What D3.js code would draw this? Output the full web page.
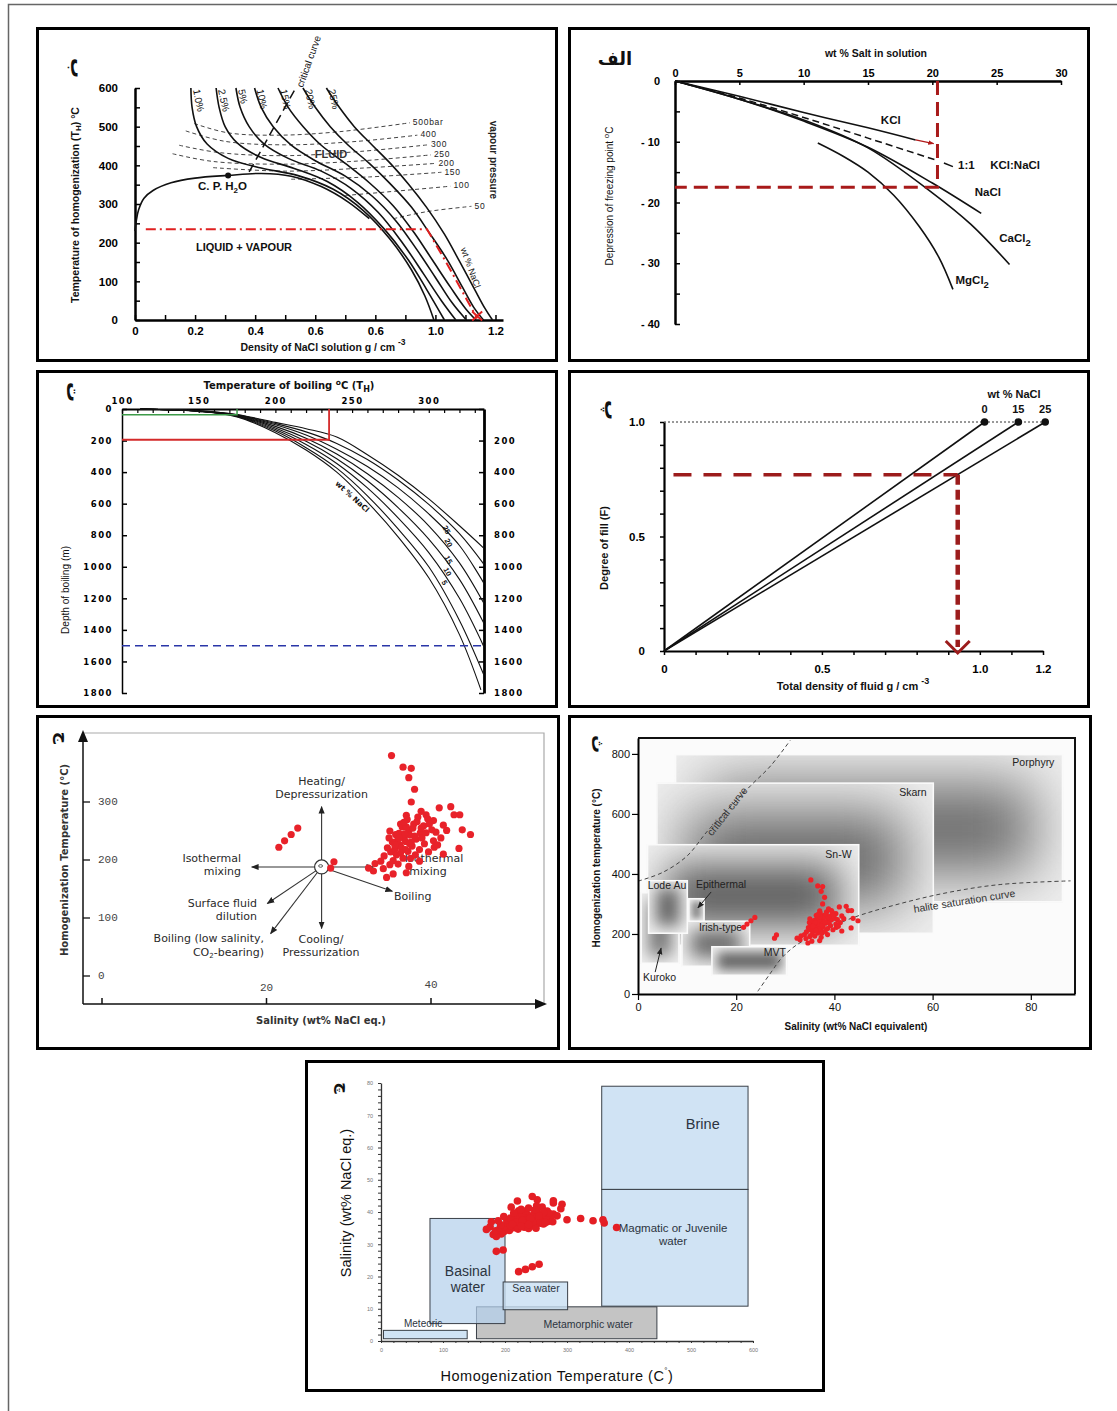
<!DOCTYPE html>
<html>
<head>
<meta charset="utf-8">
<script src="https://cdn.jsdelivr.net/npm/d3@7"></script>
<style>
  body { margin: 0; background: #fff; }
  svg { display: block; font-family: "Liberation Sans", Arial, sans-serif; }
</style>
</head>
<body>
<div id="fig"></div>
<script>
// ---------------- data ----------------

// panel ب : density of NaCl solution vs homogenization temperature
const bDensityTicks = [0, 0.1, 0.2, 0.3, 0.4, 0.5, 0.6, 0.7, 0.8, 0.9, 1.0, 1.1, 1.2];
const bDensityLabels = ['0', '0.2', '0.4', '0.6', '0.6', '1.0', '1.2'];
const bTempTicks = [0, 50, 100, 150, 200, 250, 300, 350, 400, 450, 500, 550, 600];
const bSalinity = ['1.0%', '2.5%', '5%', '10%', '15%', '20%', '25%'];
const bCurves = [
  [[0.186,600],[0.19,550],[0.205,500],[0.24,455],[0.31,418],[0.42,393],[0.54,374],[0.66,338],[0.76,283],[0.85,208],[0.92,130],[0.965,62],[0.995,0]],
  [[0.27,600],[0.28,550],[0.30,500],[0.34,458],[0.42,420],[0.53,392],[0.64,358],[0.74,305],[0.83,235],[0.91,155],[0.97,80],[1.03,0]],
  [[0.336,600],[0.35,550],[0.38,500],[0.43,455],[0.51,418],[0.62,385],[0.72,340],[0.81,278],[0.89,200],[0.96,120],[1.02,50],[1.068,0]],
  [[0.398,600],[0.42,550],[0.46,500],[0.52,452],[0.60,412],[0.70,372],[0.79,320],[0.87,255],[0.94,180],[1.00,110],[1.055,45],[1.103,0]],
  [[0.476,600],[0.51,550],[0.56,500],[0.62,452],[0.70,405],[0.78,355],[0.86,295],[0.93,225],[0.99,155],[1.05,85],[1.10,30],[1.135,0]],
  [[0.559,600],[0.60,550],[0.65,500],[0.71,452],[0.78,405],[0.85,352],[0.92,292],[0.98,225],[1.04,155],[1.09,85],[1.13,30],[1.16,0]],
  [[0.637,600],[0.68,550],[0.73,500],[0.79,452],[0.85,405],[0.91,352],[0.97,292],[1.03,222],[1.08,152],[1.13,80],[1.165,30],[1.19,0]]
];
const bDome = [[0,230],[0.004,255],[0.012,285],[0.03,315],[0.06,335],[0.12,355],[0.2,367],[0.31,374],[0.42,379],[0.52,372],[0.62,345],[0.71,305],[0.78,262]];
const bCriticalPoint = [0.31, 374];
const bCritical = [[0.38,383],[0.535,600]];
const bIsobarLabels = ['500bar', '400', '300', '250', '200', '150', '100', '50'];
const bIsobars = [
  [[0.197,508],[0.31,484],[0.48,478],[0.68,487],[0.915,510]],
  [[0.169,489],[0.30,462],[0.50,453],[0.74,462],[0.94,478]],
  [[0.147,452],[0.28,433],[0.50,425],[0.75,436],[0.975,453]],
  [[0.125,430],[0.26,410],[0.50,403],[0.76,412],[0.985,427]],
  [[0.26,394],[0.50,385],[0.76,393],[1.0,405]],
  [[0.52,364],[0.78,370],[1.02,382]],
  [[0.70,322],[0.88,334],[1.05,346]],
  [[0.86,262],[0.97,280],[1.12,294]]
];
const bRedGuide = [[0.036,235],[0.972,235],[1.044,138],[1.105,52],[1.139,4]];

// panel الف : freezing point depression
const aSaltTicks = [0, 5, 10, 15, 20, 25, 30];
const aTempTicks = [0, -5, -10, -15, -20, -25, -30, -35, -40];
const aSalts = ['KCl', 'NaCl', 'CaCl2', 'MgCl2'];
const aCurves = [
  [[0,0],[5,-2.5],[10,-5.2],[15,-7.7],[18.7,-9.7]],
  [[0,0],[5,-3.0],[10,-6.6],[15,-10.9],[20,-16.8],[23.8,-21.8]],
  [[0,0],[5,-3.0],[10,-6.4],[15,-11.0],[20,-18.4],[23,-23.6],[26,-30.2]],
  [[11.1,-10.2],[13,-12.3],[15,-15],[17,-18.8],[19,-24],[20.5,-29],[21.6,-34.3]]
];
const aMixed = [[0,0],[5,-2.8],[10,-6.0],[15,-9.4],[20.4,-13.1]];
const aGuide = { salt: 20.4, temp: -17.5 };

// panel ت : boiling point with depth
const tTempTicks = [100, 150, 200, 250, 300];
const tDepthTicks = [0, 200, 400, 600, 800, 1000, 1200, 1400, 1600, 1800];
const tCurves = [
  [[112,0],[150,12],[175,35],[200,85],[220,125],[240,178],[260,290],[280,420],[300,570],[320,740],[336,883]],
  [[112,0],[150,12],[175,37],[200,92],[220,145],[240,218],[260,320],[280,450],[300,605],[320,790],[336,985]],
  [[112,0],[150,13],[175,39],[200,100],[220,165],[240,255],[260,365],[280,500],[300,665],[320,865],[336,1106]],
  [[112,0],[150,13],[175,41],[200,110],[220,185],[240,285],[260,410],[280,560],[300,740],[320,975],[336,1233]],
  [[112,0],[150,14],[175,43],[200,120],[220,205],[240,315],[260,455],[280,625],[300,825],[320,1080],[336,1360]],
  [[112,0],[150,14],[175,45],[200,130],[220,225],[240,345],[260,500],[280,690],[300,910],[320,1200],[336,1508]],
  [[112,0],[150,15],[175,47],[200,140],[220,245],[240,375],[260,550],[280,760],[300,1000],[320,1340],[336,1688]],
  [[112,0],[150,15],[175,50],[200,150],[220,260],[240,400],[260,590],[280,810],[300,1070],[320,1430],[334,1780]]
];
const tCurveLabels = ['25', '20', '15', '10', '5'];
const tGreen = { temp: 175, depth: 36 };
const tRed = { temp: 235, depth: 195 };
const tBlueDepth = 1500;

// panel پ : degree of fill
const pSalinity = ['0', '15', '25'];
const pDensityAtFull = [1.015, 1.122, 1.207];
const pDensityTicks = [0, 0.1, 0.2, 0.3, 0.4, 0.5, 0.6, 0.7, 0.8, 0.9, 1.0, 1.1, 1.2];
const pDensityLabels = { 0: '0', 0.5: '0.5', 1: '1.0', 1.2: '1.2' };
const pFillTicks = [0, 0.1, 0.2, 0.3, 0.4, 0.5, 0.6, 0.7, 0.8, 0.9, 1.0];
const pGuide = { fill: 0.77, density: 0.93 };

// fluid inclusion measurements [salinity wt% NaCl eq., Th °C] (panels ج, ث, چ)
const inclusions = [
  [21.5,222],[22.2,233],[23.0,244],[23.8,255],
  [27.8,186],[28.2,197],
  [35.2,380],[36.6,360],[37.6,358],[37.3,342],[38.0,322],[37.6,300],
  [42.4,292],[42.8,278],[43.5,278],[43.8,252],[44.8,244],[43.4,220],[41.5,260],[41.9,251],
  [39.4,278],[40.3,268],[38.8,284],[41.0,290],
  [33.2,194],[33.0,181],[34.6,170],[35.4,176],[37.0,178],[41.5,210],[40.4,222],
  [32.4,186],[33.9,198],[34.2,185],[35.0,192],
  [34.3,207],[35.1,214],[35.6,219],[36.2,226],[35.9,233],[36.7,238],[36.1,246],[37.3,251],[36.5,257],[37.9,262],
  [37.1,270],[38.4,274],[35.4,199],[36.6,203],[35.8,209],[37.2,215],[36.4,221],[37.7,224],[36.9,232],[38.2,236],
  [37.4,243],[38.7,247],[37.8,255],[39.1,259],[38.3,266],[39.6,271],[34.7,221],[35.3,231],[34.9,238],[35.7,244],
  [36.3,262],[37.0,277],[38.9,238],[39.4,247],[40.1,252],[39.8,262],[40.6,248],[38.6,218],[39.2,228],[40.3,233],
  [37.5,203],[38.1,209],[36.0,193],[37.3,189],[38.6,198],[39.7,214],[40.8,226],[41.2,238],[35.0,250],[36.8,245],
  [36.9,218],[37.6,231],[36.3,212],[38.0,241],[37.0,257],[36.1,238],[38.8,255],[37.4,228],[35.6,226],[36.7,265]
];

// panel ج : process arrows
const jTempTicks = [0, 100, 200, 300];
const jSalTicks = [0, 20, 40];
const jCentre = [26.7, 188];
const jArrowEnds = [[26.7,292],[26.7,82],[18.2,188],[33.0,188],[35.3,146],[20.1,125],[20.5,73]];

// panel ث : deposit types
const sTempTicks = [0, 200, 400, 600, 800];
const sSalTicks = [0, 20, 40, 60, 80];
const deposits = ['Porphyry', 'Skarn', 'Sn-W', 'Kuroko', 'Irish-type', 'Lode Au', 'Epithermal', 'MVT'];
const depositSalinity = [[7.5,86.6],[3.7,60.3],[1.8,45.1],[0.5,8.5],[8.8,22.9],[2.0,10.2],[10.2,13.6],[14.9,30.4]];
const depositTemp = [[305,800],[200,705],[160,500],[100,340],[90,245],[200,380],[240,320],[60,160]];
const depositLabelAt = [[84.8,770,'end'],[58.8,670,'end'],[43.5,463,'end'],[1.0,53,'start'],[12.4,220,'start'],[5.9,360,'middle'],[11.8,363,'start'],[25.6,137,'start']];
const sCritical = [[0,376],[5,405],[10,460],[14,540],[18,610],[23,695],[27,760],[31,845]];
const sHalite = [[24.4,9],[27,70],[29.2,119],[32,160],[35.9,197],[43.4,252],[53.6,302],[63.7,340],[73.9,365],[88.1,377]];

// panel چ : water types
const cTempTicks = [0, 100, 200, 300, 400, 500, 600];
const cSalTicks = [0, 10, 20, 30, 40, 50, 60, 70, 80];
const waters = ['Metamorphic water', 'Meteoric', 'Basinal water', 'Sea water', 'Brine', 'Magmatic or Juvenile water'];
const waterTemp = [[154,445],[4,139],[79,200],[197,301],[356,592],[356,592]];
const waterSalinity = [[0.7,10.6],[0.7,3.3],[5.4,38],[9.7,18.3],[47,79],[10.8,47]];
const waterLabelAt = [[334,5],[68,5.3],[140,21.4],[250,16.1],[519,67],[471,34.7]];

// ---------------- page ----------------
const W = 1117, H = 1411;
const svg = d3.select('#fig').append('svg')
  .attr('width', W).attr('height', H).attr('viewBox', [0, 0, W, H]);
const defs = svg.append('defs');

defs.append('marker').attr('id', 'arrow')
  .attr('viewBox', '0 0 10 10').attr('refX', 9).attr('refY', 5)
  .attr('markerWidth', 7).attr('markerHeight', 7).attr('orient', 'auto')
  .append('path').attr('d', 'M0,1L10,5L0,9z').attr('fill', '#222');
defs.append('marker').attr('id', 'redArrow')
  .attr('viewBox', '0 0 10 10').attr('refX', 9).attr('refY', 5)
  .attr('markerWidth', 5).attr('markerHeight', 5).attr('orient', 'auto')
  .append('path').attr('d', 'M0,1L10,5L0,9z').attr('fill', '#b01818');

function label(g, x, y, text, o = {}) {
  const t = g.append('text').attr('x', x).attr('y', y).text(text)
    .attr('font-size', o.size || 11)
    .attr('font-weight', o.weight || 'normal')
    .attr('text-anchor', o.anchor || 'start')
    .attr('dominant-baseline', o.base || 'middle')
    .attr('fill', o.fill || '#111');
  if (o.family) t.attr('font-family', o.family);
  if (o.rotate !== undefined) t.attr('transform', `rotate(${o.rotate},${x},${y})`);
  if (o.ls) t.attr('letter-spacing', o.ls);
  if (o.len) t.attr('textLength', o.len).attr('lengthAdjust', 'spacingAndGlyphs');
  if (o.style) t.attr('font-style', o.style);
  return t;
}
function styleAxis(sel, o = {}) {
  sel.attr('font-family', null).attr('font-size', null);
  sel.select('.domain').attr('stroke', o.color || '#000').attr('stroke-width', o.domain || 2);
  sel.selectAll('.tick line').attr('stroke', o.color || '#000').attr('stroke-width', o.tick || 1.5);
  sel.selectAll('.tick text').attr('font-size', o.size || 11).attr('font-weight', o.weight || 'bold')
    .attr('fill', o.fill || '#000');
  if (o.family) sel.selectAll('.tick text').attr('font-family', o.family);
  if (o.ls) sel.selectAll('.tick text').attr('letter-spacing', o.ls);
}

// outer figure border
svg.append('path').attr('d', `M8.5,${H}V4.5H${W}`).attr('fill', 'none').attr('stroke', '#666').attr('stroke-width', 1.5);

// panel frames
const frames = [[36,27,522,335],[568,27,522,335],[36,370,522,338],[568,370,522,338],[36,715,524,335],[568,715,524,335],[305,1060,520,332]];
svg.selectAll('rect.frame').data(frames).join('rect').attr('class', 'frame')
  .attr('x', d => d[0] + 1.5).attr('y', d => d[1] + 1.5)
  .attr('width', d => d[2] - 3).attr('height', d => d[3] - 3)
  .attr('fill', 'none').attr('stroke', '#000').attr('stroke-width', 3);

// panel letters
const letterFont = '"DejaVu Sans", sans-serif';
label(svg, 76, 68, 'ب', { size: 20, weight: 'bold', anchor: 'middle', rotate: 90, family: letterFont });
label(svg, 615, 60, 'الف', { size: 18, weight: 'bold', anchor: 'middle', family: letterFont });
label(svg, 72, 392, 'ت', { size: 20, weight: 'bold', anchor: 'middle', rotate: 90, family: letterFont });
label(svg, 610, 410, 'پ', { size: 20, weight: 'bold', anchor: 'middle', rotate: 90, family: letterFont });
label(svg, 62, 738, 'ج', { size: 17, weight: 'bold', anchor: 'middle', rotate: 90, family: letterFont });
label(svg, 597, 744, 'ث', { size: 18, weight: 'bold', anchor: 'middle', rotate: 90, family: letterFont });
label(svg, 342, 1088, 'چ', { size: 16, weight: 'bold', anchor: 'middle', rotate: 90, family: letterFont });

// ================= panel ب =================
{
  const g = svg.append('g');
  const x = d3.scaleLinear().domain([0, 1.225]).range([135, 503]);
  const y = d3.scaleLinear().domain([0, 600]).range([320, 88]);
  const line = d3.line().x(d => x(d[0])).y(d => y(d[1])).curve(d3.curveCatmullRom.alpha(0.5));

  g.append('g').attr('transform', 'translate(135,0)')
    .call(d3.axisLeft(y).tickValues(bTempTicks).tickSize(-5).tickSizeOuter(0).tickPadding(17)
      .tickFormat(d => d % 100 === 0 ? d : ''))
    .call(styleAxis, { domain: 2.5, size: 11.5 });
  g.append('g').attr('transform', 'translate(0,320)')
    .call(d3.axisBottom(x).tickValues(bDensityTicks).tickSize(-5).tickSizeOuter(0).tickPadding(7)
      .tickFormat((d, i) => i % 2 === 0 ? bDensityLabels[i / 2] : ''))
    .call(styleAxis, { domain: 2.5, size: 11.5 });

  // isobars
  g.selectAll('.isobar').data(bIsobars).join('path').attr('class', 'isobar')
    .attr('d', line).attr('fill', 'none').attr('stroke', '#444').attr('stroke-width', 1)
    .attr('stroke-dasharray', '4,3');
  bIsobars.forEach((pts, i) => {
    const p = pts[pts.length - 1];
    label(g, x(p[0]) + 3, y(p[1]), bIsobarLabels[i], { size: 8.5, fill: '#222', ls: 0.7 });
  });

  // isochores / salinity curves
  g.selectAll('.iso').data(bCurves).join('path').attr('class', 'iso')
    .attr('d', line).attr('fill', 'none').attr('stroke', '#111').attr('stroke-width', 1.6);
  bCurves.forEach((pts, i) => {
    label(g, x(pts[0][0]) + 2, 90, bSalinity[i], { size: 10, rotate: 78, base: 'auto', fill: '#111' });
  });
  g.append('path').attr('d', line(bDome)).attr('fill', 'none').attr('stroke', '#111').attr('stroke-width', 1.6);
  g.append('circle').attr('cx', x(bCriticalPoint[0])).attr('cy', y(bCriticalPoint[1])).attr('r', 3).attr('fill', '#111');
  g.append('path').attr('d', d3.line().x(d => x(d[0])).y(d => y(d[1]))(bCritical))
    .attr('stroke', '#111').attr('stroke-width', 1.5).attr('stroke-dasharray', '9,5');
  label(g, x(bCritical[1][0]) + 7, y(bCritical[1][1]), 'critical curve', { size: 10, rotate: -70, base: 'auto', len: 54 });

  // red guide
  g.append('path').attr('d', d3.line().x(d => x(d[0])).y(d => y(d[1]))(bRedGuide))
    .attr('fill', 'none').attr('stroke', '#e02020').attr('stroke-width', 2).attr('stroke-dasharray', '10,4,2,4');
  const end = bRedGuide[bRedGuide.length - 1];
  g.append('path').attr('d', `M${x(end[0]) - 5},${y(end[1]) - 7}L${x(end[0]) + 5},${y(end[1]) + 2}M${x(end[0]) + 5},${y(end[1]) - 7}L${x(end[0]) - 5},${y(end[1]) + 2}`)
    .attr('stroke', '#e02020').attr('stroke-width', 2);

  label(g, 331, 155, 'FLUID', { size: 11, weight: 'bold', anchor: 'middle', fill: '#333' });
  const cp = label(g, 198, 187, 'C. P.  H', { size: 11.5, weight: 'bold' });
  cp.append('tspan').attr('font-size', 8).attr('dy', 4).text('2');
  cp.append('tspan').attr('dy', -4).text('O');
  label(g, 196, 248, 'LIQUID  +  VAPOUR', { size: 11, weight: 'bold' });
  label(g, 493, 160, 'vapour pressure', { size: 10, weight: 'bold', anchor: 'middle', rotate: 90, fill: '#222' });
  label(g, 470, 268, 'wt % NaCl', { size: 9, anchor: 'middle', rotate: 70, fill: '#222' });

  const yl = label(g, 76, 205, 'Temperature of homogenization (T', { size: 10.5, weight: 'bold', anchor: 'middle', rotate: -90 });
  yl.append('tspan').attr('font-size', 8).attr('dy', 3).text('H');
  yl.append('tspan').attr('dy', -3).text(') °C');
  const xl = label(g, 323, 348, 'Density of NaCl solution  g / cm ', { size: 10.5, weight: 'bold', anchor: 'middle' });
  xl.append('tspan').attr('font-size', 8.5).attr('dy', -5).text('-3');
}

// ================= panel الف =================
{
  const g = svg.append('g');
  const x = d3.scaleLinear().domain([0, 30]).range([675, 1061]);
  const y = d3.scaleLinear().domain([0, -40]).range([81, 324]);
  const line = d3.line().x(d => x(d[0])).y(d => y(d[1])).curve(d3.curveCatmullRom.alpha(0.5));

  g.append('g').attr('transform', 'translate(0,81)')
    .call(d3.axisTop(x).tickValues(aSaltTicks).tickSize(-4).tickSizeOuter(0).tickPadding(4))
    .call(styleAxis, { domain: 2.5, size: 11 });
  g.append('g').attr('transform', 'translate(675,0)')
    .call(d3.axisLeft(y).tickValues(aTempTicks).tickSize(-5).tickSizeOuter(0).tickPadding(15)
      .tickFormat(d => d % 10 !== 0 ? '' : (d === 0 ? '0' : '- ' + (-d))))
    .call(styleAxis, { domain: 2.5, size: 11 });

  g.selectAll('.salt').data(aCurves).join('path').attr('class', 'salt')
    .attr('d', line).attr('fill', 'none').attr('stroke', '#111').attr('stroke-width', 1.6);
  g.append('path').attr('d', line(aMixed)).attr('fill', 'none').attr('stroke', '#111')
    .attr('stroke-width', 1.5).attr('stroke-dasharray', '7,4');
  g.append('path').attr('d', `M${x(20.9)},${y(-13.5)}L${x(21.6)},${y(-14.1)}`).attr('stroke', '#111').attr('stroke-width', 1.5);

  // red guides
  g.append('path').attr('d', `M${x(aGuide.salt)},${y(0)}V${y(aGuide.temp)}H${x(0)}`)
    .attr('fill', 'none').attr('stroke', '#a81a1a').attr('stroke-width', 3).attr('stroke-dasharray', '14,7');
  g.append('path').attr('d', `M${x(18.7)},${y(-9.7)}L${x(20.1)},${y(-10.3)}`)
    .attr('stroke', '#b01818').attr('stroke-width', 1.2).attr('marker-end', 'url(#redArrow)');

  label(g, x(16.0), y(-6.6), 'KCl', { size: 11.5, weight: 'bold' });
  label(g, x(22.0), y(-14.0), '1:1', { size: 11.5, weight: 'bold' });
  label(g, x(24.5), y(-14.0), 'KCl:NaCl', { size: 11.5, weight: 'bold' });
  label(g, x(23.3), y(-18.4), 'NaCl', { size: 11.5, weight: 'bold' });
  const ca = label(g, x(25.2), y(-26.0), 'CaCl', { size: 11.5, weight: 'bold' });
  ca.append('tspan').attr('dy', 4).attr('font-size', 9.5).text('2');
  const mg = label(g, x(21.8), y(-32.9), 'MgCl', { size: 11.5, weight: 'bold' });
  mg.append('tspan').attr('dy', 4).attr('font-size', 9.5).text('2');

  label(g, 876, 54, 'wt  %  Salt in solution', { size: 10.5, weight: 'bold', anchor: 'middle' });
  const yl = label(g, 610, 196, 'Depression of freezing point   ', { size: 10, anchor: 'middle', rotate: -90 });
  yl.append('tspan').attr('dy', -3).attr('font-size', 8).text('o');
  yl.append('tspan').attr('dy', 3).text('C');
}

// ================= panel ت =================
{
  const g = svg.append('g');
  const x = d3.scaleLinear().domain([100, 336]).range([122, 484]);
  const y = d3.scaleLinear().domain([0, 1800]).range([409, 693]);
  const line = d3.line().x(d => x(d[0])).y(d => y(d[1])).curve(d3.curveCatmullRom.alpha(0.5));
  const font = '"DejaVu Sans", sans-serif';

  g.append('g').attr('transform', 'translate(0,409)')
    .call(d3.axisTop(x).tickValues(d3.range(100, 337, 10)).tickSize(-4).tickSizeOuter(0).tickPadding(5)
      .tickFormat(d => tTempTicks.includes(d) ? d : ''))
    .call(styleAxis, { domain: 2, tick: 1.2, size: 8.5, family: font, ls: 1.5 });
  g.append('g').attr('transform', 'translate(122,0)')
    .call(d3.axisLeft(y).tickValues(tDepthTicks).tickSize(-5).tickSizeOuter(0).tickPadding(9)
      .tickFormat(d => String(d)))
    .call(styleAxis, { domain: 1.5, tick: 1.5, size: 8.5, family: font, ls: 1.5 });
  g.append('g').attr('transform', 'translate(484,0)')
    .call(d3.axisRight(y).tickValues(tDepthTicks).tickSize(-5).tickSizeOuter(0).tickPadding(10)
      .tickFormat(d => d === 0 ? '' : String(d)))
    .call(styleAxis, { domain: 2.8, tick: 1.5, size: 8.5, family: font, ls: 1.5 });

  g.selectAll('.boil').data(tCurves).join('path').attr('class', 'boil')
    .attr('d', line).attr('fill', 'none').attr('stroke', '#111').attr('stroke-width', 1.1);

  g.append('path').attr('d', `M${x(100)},${y(tGreen.depth)}H${x(tGreen.temp)}V${y(0)}`)
    .attr('fill', 'none').attr('stroke', '#3c9a48').attr('stroke-width', 1.5);
  g.append('path').attr('d', `M${x(100)},${y(tRed.depth)}H${x(tRed.temp)}V${y(0)}`)
    .attr('fill', 'none').attr('stroke', '#d42a2a').attr('stroke-width', 1.8);
  g.append('line').attr('x1', x(100)).attr('x2', x(336)).attr('y1', y(tBlueDepth)).attr('y2', y(tBlueDepth))
    .attr('stroke', '#2a36a8').attr('stroke-width', 1.5).attr('stroke-dasharray', '8,5');

  const labelPos = [[446,530],[448,543],[448,560],[447,572],[444,583]];
  tCurveLabels.forEach((t, i) => label(g, labelPos[i][0], labelPos[i][1], t, { size: 7.5, weight: 'bold', rotate: 62, anchor: 'middle' }));
  label(g, 352, 497, 'wt % NaCl', { size: 7.5, weight: 'bold', rotate: 42, anchor: 'middle', family: font });

  const tl = label(g, 289, 386, 'Temperature of boiling  ', { size: 10, weight: 'bold', anchor: 'middle', family: font });
  tl.append('tspan').attr('dy', -3).attr('font-size', 7.5).text('o');
  tl.append('tspan').attr('dy', 3).text('C (T');
  tl.append('tspan').attr('dy', 3).attr('font-size', 8).text('H');
  tl.append('tspan').attr('dy', -3).text(')');
  label(g, 66, 590, 'Depth of boiling (m)', { size: 10.5, anchor: 'middle', rotate: -90, len: 88 });
}

// ================= panel پ =================
{
  const g = svg.append('g');
  const x = d3.scaleLinear().domain([0, 1.2]).range([664, 1043]);
  const y = d3.scaleLinear().domain([0, 1]).range([651, 422]);

  g.append('g').attr('transform', 'translate(0,651)')
    .call(d3.axisBottom(x).tickValues(pDensityTicks).tickSize(4).tickSizeOuter(0).tickPadding(10)
      .tickFormat(d => pDensityLabels[Math.round(d * 10) / 10] || ''))
    .call(styleAxis, { domain: 2.2, size: 11.5 });
  g.append('g').attr('transform', 'translate(664,0)')
    .call(d3.axisLeft(y).tickValues(pFillTicks).tickSize(4).tickSizeOuter(0).tickPadding(15)
      .tickFormat(d => d === 0 ? '0' : (Math.abs(d - 0.5) < 1e-9 ? '0.5' : (Math.abs(d - 1) < 1e-9 ? '1.0' : ''))))
    .call(styleAxis, { domain: 2.2, size: 11.5 });

  g.append('line').attr('x1', x(0)).attr('x2', x(pDensityAtFull[2])).attr('y1', y(1)).attr('y2', y(1))
    .attr('stroke', '#333').attr('stroke-width', 1).attr('stroke-dasharray', '2,2');
  g.selectAll('.fill').data(pDensityAtFull).join('line').attr('class', 'fill')
    .attr('x1', x(0)).attr('y1', y(0)).attr('x2', d => x(d)).attr('y2', y(1))
    .attr('stroke', '#111').attr('stroke-width', 1.6);
  g.selectAll('.dot').data(pDensityAtFull).join('circle').attr('class', 'dot')
    .attr('cx', d => x(d)).attr('cy', y(1)).attr('r', 3.8).attr('fill', '#111');
  pSalinity.forEach((s, i) => label(g, x(pDensityAtFull[i]), 410, s, { size: 11, weight: 'bold', anchor: 'middle' }));
  label(g, 1014, 395, 'wt  %  NaCl', { size: 11, weight: 'bold', anchor: 'middle' });

  g.append('line').attr('x1', x(0.03)).attr('x2', x(pGuide.density)).attr('y1', y(pGuide.fill)).attr('y2', y(pGuide.fill))
    .attr('stroke', '#9c1c1c').attr('stroke-width', 3.5).attr('stroke-dasharray', '18,12');
  g.append('line').attr('x1', x(pGuide.density)).attr('x2', x(pGuide.density)).attr('y1', y(pGuide.fill)).attr('y2', y(0) - 4)
    .attr('stroke', '#9c1c1c').attr('stroke-width', 4.5).attr('stroke-dasharray', '10,5');
  g.append('path').attr('d', `M${x(pGuide.density) - 12},${y(0) - 10}L${x(pGuide.density)},${y(0) + 2}L${x(pGuide.density) + 12},${y(0) - 10}`)
    .attr('fill', 'none').attr('stroke', '#9c1c1c').attr('stroke-width', 3);

  const xl = label(g, 853, 687, 'Total density of fluid g / cm ', { size: 11, weight: 'bold', anchor: 'middle' });
  xl.append('tspan').attr('dy', -5).attr('font-size', 9).text('-3');
  label(g, 605, 548, 'Degree of fill (F)', { size: 11, weight: 'bold', anchor: 'middle', rotate: -90 });
}

// ================= panel ج =================
{
  const g = svg.append('g');
  const x = d3.scaleLinear().domain([0, 40]).range([102, 431]);
  const y = d3.scaleLinear().domain([0, 300]).range([976, 802]);
  const font = '"DejaVu Sans", sans-serif';

  g.append('path').attr('d', 'M83,733H544V1004').attr('fill', 'none').attr('stroke', '#aaa').attr('stroke-width', 1.2);
  g.append('path').attr('d', 'M83,1004V740M83,1004H537').attr('stroke', '#111').attr('stroke-width', 1.5);
  g.append('path').attr('d', 'M83,730L78,742L88,742Z').attr('fill', '#111');
  g.append('path').attr('d', 'M547,1004L535,999L535,1009Z').attr('fill', '#111');

  g.selectAll('.ty').data(jTempTicks).join('line').attr('class', 'ty')
    .attr('x1', 83).attr('x2', 90).attr('y1', d => y(d)).attr('y2', d => y(d)).attr('stroke', '#111').attr('stroke-width', 1.3);
  jTempTicks.forEach(t => label(g, 98, y(t), String(t), { size: 11, family: '"Liberation Mono", monospace', fill: '#444' }));
  g.selectAll('.tx').data(jSalTicks).join('line').attr('class', 'tx')
    .attr('x1', d => x(d)).attr('x2', d => x(d)).attr('y1', 998).attr('y2', 1004).attr('stroke', '#111').attr('stroke-width', 1.5);
  jSalTicks.slice(1).forEach((t, i) => label(g, x(t), i === 0 ? 988 : 985, String(t), { size: 11, anchor: 'middle', family: '"Liberation Mono", monospace', fill: '#444' }));

  // process arrows from the central fluid
  const cx = x(jCentre[0]), cy = y(jCentre[1]);
  jArrowEnds.forEach(e => {
    const ex = x(e[0]), ey = y(e[1]);
    const len = Math.hypot(ex - cx, ey - cy);
    const sx = cx + (ex - cx) / len * 7, sy = cy + (ey - cy) / len * 7;
    g.append('line').attr('x1', sx).attr('y1', sy).attr('x2', ex).attr('y2', ey)
      .attr('stroke', '#333').attr('stroke-width', 1.1).attr('marker-end', 'url(#arrow)');
  });
  g.append('circle').attr('cx', cx).attr('cy', cy).attr('r', 7).attr('fill', 'none').attr('stroke', '#333').attr('stroke-width', 1.2);
  g.append('ellipse').attr('cx', cx - 1).attr('cy', cy - 1).attr('rx', 2).attr('ry', 1.3).attr('fill', 'none').attr('stroke', '#333').attr('stroke-width', 0.8);

  const o = { size: 11, family: font, fill: '#2a2a2a' };
  label(g, cx, 782, 'Heating/', { ...o, anchor: 'middle' });
  label(g, cx, 795, 'Depressurization', { ...o, anchor: 'middle' });
  label(g, 241, 859, 'Isothermal', { ...o, anchor: 'end' });
  label(g, 241, 872, 'mixing', { ...o, anchor: 'end' });
  label(g, 434, 859, 'Isothermal', { ...o, anchor: 'middle' });
  label(g, 428, 872, 'mixing', { ...o, anchor: 'middle' });
  label(g, 394, 897, 'Boiling', o);
  label(g, 257, 904, 'Surface fluid', { ...o, anchor: 'end' });
  label(g, 257, 917, 'dilution', { ...o, anchor: 'end' });
  label(g, 264, 939, 'Boiling (low salinity,', { ...o, anchor: 'end' });
  const co = label(g, 264, 953, 'CO', { ...o, anchor: 'end' });
  co.append('tspan').attr('font-size', 7).attr('dy', 3).text('2');
  co.append('tspan').attr('dy', -3).text('-bearing)');
  label(g, 321, 940, 'Cooling/', { ...o, anchor: 'middle' });
  label(g, 321, 953, 'Pressurization', { ...o, anchor: 'middle' });

  g.selectAll('.incl').data(inclusions).join('circle').attr('class', 'incl')
    .attr('cx', d => x(d[0])).attr('cy', d => y(d[1])).attr('r', 3.6).attr('fill', '#e8222a');

  label(g, 65, 860, 'Homogenization Temperature (°C)', { size: 10, weight: 'bold', anchor: 'middle', rotate: -90, family: font, fill: '#333' });
  label(g, 321, 1021, 'Salinity (wt% NaCl eq.)', { size: 10, weight: 'bold', anchor: 'middle', family: font, fill: '#333' });
}

// ================= panel ث =================
{
  const g = svg.append('g');
  const x = d3.scaleLinear().domain([0, 89]).range([638, 1075]);
  const y = d3.scaleLinear().domain([0, 853]).range([994, 738]);
  const line = d3.line().x(d => x(d[0])).y(d => y(d[1])).curve(d3.curveCatmullRom.alpha(0.5));
  const shade = ['#6a6a6a', '#626262', '#5a5a5a', '#7a7a7a', '#6c6c6c', '#666', '#8a8a8a', '#666'];

  g.append('rect').attr('x', 638).attr('y', 738).attr('width', 437).attr('height', 256).attr('fill', '#fbfbfb');

  deposits.forEach((name, i) => {
    const x0 = x(depositSalinity[i][0]), x1 = x(depositSalinity[i][1]);
    const y0 = y(depositTemp[i][1]), y1 = y(depositTemp[i][0]);
    const w = x1 - x0, h = y1 - y0, m = Math.min(w, h);
    defs.append('clipPath').attr('id', 'dep' + i).append('rect').attr('x', x0).attr('y', y0).attr('width', w).attr('height', h);
    defs.append('filter').attr('id', 'depBlur' + i).attr('x', '-50%').attr('y', '-50%').attr('width', '200%').attr('height', '200%')
      .append('feGaussianBlur').attr('stdDeviation', m * 0.2);
    const gb = g.append('g').attr('clip-path', `url(#dep${i})`);
    gb.append('rect').attr('x', x0).attr('y', y0).attr('width', w).attr('height', h).attr('fill', '#efefef');
    gb.append('rect').attr('x', x0 + m * 0.2).attr('y', y0 + m * 0.2)
      .attr('width', Math.max(1, w - m * 0.4)).attr('height', Math.max(1, h - m * 0.4))
      .attr('fill', shade[i]).attr('filter', `url(#depBlur${i})`);
    g.append('rect').attr('x', x0 + 0.75).attr('y', y0 + 0.75).attr('width', w - 1.5).attr('height', h - 1.5)
      .attr('fill', 'none').attr('stroke', '#fafafa').attr('stroke-width', 1.5);
  });

  g.append('path').attr('d', line(sCritical)).attr('fill', 'none').attr('stroke', '#444').attr('stroke-width', 1).attr('stroke-dasharray', '4,3');
  g.append('path').attr('d', line(sHalite)).attr('fill', 'none').attr('stroke', '#444').attr('stroke-width', 1).attr('stroke-dasharray', '4,3');
  label(g, x(18.3), y(607), 'critical curve', { size: 10.5, anchor: 'middle', rotate: -52, fill: '#333' });
  label(g, x(66.5), y(307), 'halite saturation curve', { size: 10.5, anchor: 'middle', rotate: -9, fill: '#333' });

  deposits.forEach((name, i) => {
    const p = depositLabelAt[i];
    label(g, x(p[0]), y(p[1]), name, { size: 10.5, anchor: p[2], fill: '#222' });
  });
  g.append('line').attr('x1', x(14.9)).attr('y1', y(340)).attr('x2', x(12.2)).attr('y2', y(287))
    .attr('stroke', '#222').attr('stroke-width', 1).attr('marker-end', 'url(#arrow)');
  g.append('line').attr('x1', x(3.5)).attr('y1', y(73)).attr('x2', x(4.7)).attr('y2', y(153))
    .attr('stroke', '#222').attr('stroke-width', 1).attr('marker-end', 'url(#arrow)');

  g.selectAll('.incl').data(inclusions).join('circle').attr('class', 'incl')
    .attr('cx', d => x(d[0])).attr('cy', d => y(d[1])).attr('r', 2.6).attr('fill', '#ee2228');

  g.append('path').attr('d', 'M638,738H1075V994').attr('fill', 'none').attr('stroke', '#111').attr('stroke-width', 2);
  g.append('g').attr('transform', 'translate(638,0)')
    .call(d3.axisLeft(y).tickValues(sTempTicks).tickSize(6).tickSizeOuter(0).tickPadding(2))
    .call(styleAxis, { domain: 2, tick: 1.2, size: 11, weight: 'normal', fill: '#111' });
  g.append('g').attr('transform', 'translate(0,994)')
    .call(d3.axisBottom(x).tickValues(sSalTicks).tickSize(6).tickSizeOuter(0).tickPadding(3))
    .call(styleAxis, { domain: 2, tick: 1.2, size: 11, weight: 'normal', fill: '#111' });

  label(g, 597, 868, 'Homogenization temperature (°C)', { size: 10, weight: 'bold', anchor: 'middle', rotate: -90 });
  label(g, 856, 1027, 'Salinity (wt% NaCl equivalent)', { size: 10, weight: 'bold', anchor: 'middle' });
}

// ================= panel چ =================
{
  const g = svg.append('g');
  const x = d3.scaleLinear().domain([0, 600]).range([381, 753]);
  const y = d3.scaleLinear().domain([0, 80]).range([1341, 1083]);
  const fills = ['rgba(190,190,190,0.9)', 'rgba(200,222,242,0.85)', 'rgba(180,208,236,0.72)', 'rgba(200,222,242,0.8)', 'rgba(205,225,243,0.95)', 'rgba(205,225,243,0.95)'];

  waters.forEach((name, i) => {
    g.append('rect')
      .attr('x', x(waterTemp[i][0])).attr('y', y(waterSalinity[i][1]))
      .attr('width', x(waterTemp[i][1]) - x(waterTemp[i][0]))
      .attr('height', y(waterSalinity[i][0]) - y(waterSalinity[i][1]))
      .attr('fill', fills[i]).attr('stroke', '#3a4048').attr('stroke-width', 1);
  });

  g.append('g').attr('transform', 'translate(381,0)')
    .call(d3.axisLeft(y).tickValues(d3.range(0, 81, 2)).tickSize(3).tickSizeOuter(0).tickPadding(5)
      .tickFormat(d => cSalTicks.includes(d) ? d : ''))
    .call(styleAxis, { domain: 1.3, tick: 1, size: 5.5, weight: 'normal', fill: '#777', color: '#333' });
  g.append('g').attr('transform', 'translate(0,1341)')
    .call(d3.axisBottom(x).tickValues(d3.range(0, 601, 20)).tickSize(2).tickSizeOuter(0).tickPadding(5)
      .tickFormat(d => cTempTicks.includes(d) ? d : ''))
    .call(styleAxis, { domain: 1.3, tick: 1, size: 5.5, weight: 'normal', fill: '#777', color: '#333' });

  const ink = '#2c3440';
  label(g, x(waterLabelAt[0][0]), y(waterLabelAt[0][1]), 'Metamorphic water', { size: 10.5, anchor: 'middle', fill: ink });
  label(g, x(waterLabelAt[1][0]), y(waterLabelAt[1][1]), 'Meteoric', { size: 10, anchor: 'middle', fill: ink });
  label(g, x(waterLabelAt[2][0]), y(waterLabelAt[2][1]), 'Basinal', { size: 14, anchor: 'middle', fill: ink });
  label(g, x(waterLabelAt[2][0]), y(waterLabelAt[2][1]) + 16, 'water', { size: 14, anchor: 'middle', fill: ink });
  label(g, x(waterLabelAt[3][0]), y(waterLabelAt[3][1]), 'Sea water', { size: 10.5, anchor: 'middle', fill: ink });
  label(g, x(waterLabelAt[4][0]), y(waterLabelAt[4][1]), 'Brine', { size: 14.5, anchor: 'middle', fill: ink });
  label(g, x(waterLabelAt[5][0]), y(waterLabelAt[5][1]), 'Magmatic  or  Juvenile', { size: 11.5, anchor: 'middle', fill: ink });
  label(g, x(waterLabelAt[5][0]), y(waterLabelAt[5][1]) + 13, 'water', { size: 11.5, anchor: 'middle', fill: ink });

  g.selectAll('.incl').data(inclusions).join('circle').attr('class', 'incl')
    .attr('cx', d => x(d[1])).attr('cy', d => y(d[0])).attr('r', 3.8).attr('fill', '#e41e24');

  label(g, 347, 1203, 'Salinity (wt% NaCl eq.)', { size: 14.5, anchor: 'middle', rotate: -90, fill: '#111' });
  const xl = label(g, 557, 1377, 'Homogenization Temperature (C', { size: 14.5, anchor: 'middle', fill: '#111', ls: 0.5 });
  xl.append('tspan').attr('dy', -6).attr('font-size', 8).text('°');
  xl.append('tspan').attr('dy', 6).text(')');
}
</script>
</body>
</html>
